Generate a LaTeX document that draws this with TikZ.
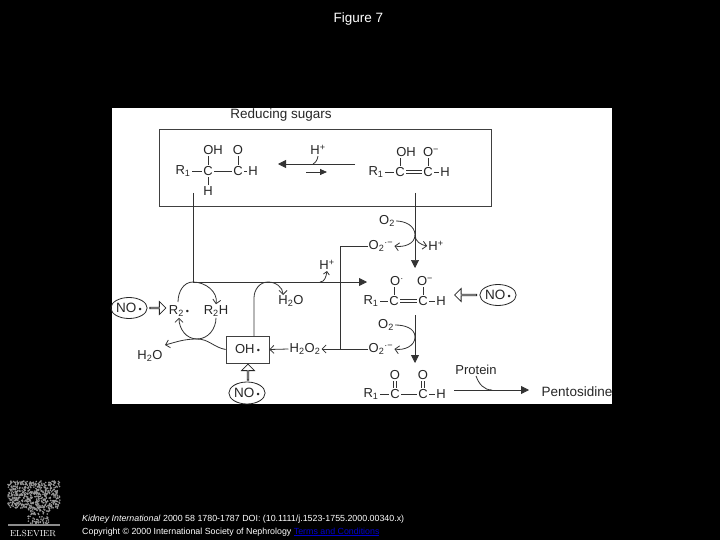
\documentclass[tikz,border=0pt]{standalone}
\usepackage{fontspec}
\setmainfont{Liberation Sans}
\usetikzlibrary{arrows.meta,shapes.geometric,shapes.arrows}
\newcommand{\raddot}{\,{\fontsize{9}{9}\selectfont\textbullet}}

\begin{document}
\begin{tikzpicture}[
  x=1pt, y=-1pt,
  atom/.style={inner sep=0.5pt, text=black!85, font=\fontsize{13}{15}\selectfont},
  species/.style={inner sep=1pt, text=black!85, font=\fontsize{13}{15}\selectfont},
  frame/.style={draw=black!75, line width=0.8pt, inner sep=0pt},
  radical/.style={ellipse, draw=black!85, line width=0.8pt, inner sep=0pt, text=black!85,
                  font=\fontsize{13.5}{15}\selectfont},
  hollow/.style={single arrow, draw=black!85, fill=white, line width=0.8pt, inner sep=0pt,
                 minimum height=16pt, minimum width=13pt, single arrow head extend=3pt,
                 single arrow head indent=0pt},
  bond/.style={draw=black!80, line width=0.8pt, shorten >=1pt, shorten <=1pt},
  dbond/.style={bond, double, double distance=1.6pt},
  flow/.style={draw=black!80, line width=0.8pt},
  solidarr/.style={flow, -{Triangle[length=8pt,width=8pt]}},
  openarr/.style={flow, -{Straight Barb[length=4pt,width=8pt]}},
  foot/.style={inner sep=0pt, anchor=west, text=white, font=\fontsize{8.85}{10}\selectfont},
]
  % Slide and panel
  \useasboundingbox (0,0) rectangle (720,540);
  \fill[black] (0,0) rectangle (720,540);
  \fill[white] (112,108) rectangle (612,404);
  \node[text=white, inner sep=0pt, font=\fontsize{13.5}{15}\selectfont] (title) at (358.5,19) {Figure 7};
  \node[species, font=\fontsize{13.5}{15}\selectfont] (sugars) at (281,115) {Reducing sugars};
  \node[frame, minimum width=332pt, minimum height=77pt] (sugarbox) at (325,167.5) {};

  % Left sugar
  \node[atom] (ra) at (183,171) {R\textsubscript{1}};
  \node[atom] (ca) at (208,171) {C};
  \node[atom] (cb) at (238,171) {C};
  \node[atom] (ha) at (253,171) {H};
  \node[atom] (oha) at (213,150) {OH};
  \node[atom] (oa) at (238,150) {O};
  \node[atom] (hb) at (208,191) {H};
  \draw[bond] (ra) -- (ca);
  \draw[bond] (ca) -- (cb);
  \draw[bond] (cb) -- (ha);
  \draw[bond] (ca) -- (ca |- oha.south);
  \draw[bond] (cb) -- (oa);
  \draw[bond] (ca) -- (hb);

  % Right sugar
  \node[atom] (rb) at (376,172) {R\textsubscript{1}};
  \node[atom] (cc) at (400,172) {C};
  \node[atom] (cd) at (428,172) {C};
  \node[atom] (hc) at (445,172) {H};
  \node[atom] (ohb) at (406,152) {OH};
  \node[atom] (ob) at (431,152) {O\textsuperscript{−}};
  \draw[bond] (rb) -- (cc);
  \draw[dbond] (cc) -- (cd);
  \draw[bond] (cd) -- (hc);
  \draw[bond] (cc) -- (cc |- ohb.south);
  \draw[bond] (cd) -- (cd |- ob.south);

  % Equilibrium
  \node[species] (hplusa) at (318,150) {H\textsuperscript{+}};
  \coordinate (eqr) at (355,164);
  \coordinate (eql) at (278,164);
  \coordinate (eqh) at (313,164);
  \coordinate (eqa) at (306,172);
  \coordinate (eqb) at (327,172);
  \draw[solidarr] (eqr) -- (eql);
  \draw[solidarr, -{Triangle[length=7pt,width=6pt]}] (eqa) -- (eqb);
  \draw[flow] (hplusa.south) to[out=-100, in=30] (eqh);

  % Middle sugar
  \node[atom] (rc) at (371,301) {R\textsubscript{1}};
  \node[atom] (ce) at (394,301) {C};
  \node[atom] (cf) at (423,301) {C};
  \node[atom] (hd) at (441,301) {H};
  \node[atom] (oc) at (397,281) {O\textsuperscript{·}};
  \node[atom] (od) at (425,281) {O\textsuperscript{−}};
  \draw[bond] (rc) -- (ce);
  \draw[dbond] (ce) -- (cf);
  \draw[bond] (cf) -- (hd);
  \draw[bond] (ce) -- (ce |- oc.south);
  \draw[bond] (cf) -- (cf |- od.south);

  % Bottom sugar
  \node[atom] (rd) at (371,394) {R\textsubscript{1}};
  \node[atom] (cg) at (395,394) {C};
  \node[atom] (ch) at (423,394) {C};
  \node[atom] (he) at (441,394) {H};
  \node[atom] (oe) at (395,375) {O};
  \node[atom] (of) at (423,375) {O};
  \draw[bond] (rd) -- (cg);
  \draw[bond] (cg) -- (ch);
  \draw[bond] (ch) -- (he);
  \draw[dbond] (cg) -- (oe);
  \draw[dbond] (ch) -- (of);

  % Oxygen steps
  \node[species] (oxa) at (387,221) {O\textsubscript{2}};
  \node[species] (supa) at (381,246) {O\textsubscript{2}\textsuperscript{·−}};
  \node[species] (hplusb) at (436,246) {H\textsuperscript{+}};
  \node[species] (oxb) at (386,325) {O\textsubscript{2}};
  \node[species] (supb) at (381,349) {O\textsubscript{2}\textsuperscript{·−}};
  \coordinate (dropa) at (415,193);
  \coordinate (tipa) at (415,268);
  \coordinate (benda) at (415,235);
  \coordinate (dropb) at (415,315);
  \coordinate (tipb) at (415,363);
  \coordinate (bendb) at (415,337);
  \draw[solidarr, line width=0.6pt] (dropa) -- (tipa);
  \draw[solidarr] (dropb) -- (tipb);
  \draw[flow] (oxa.east) to[out=0, in=90] (benda);
  \draw[openarr] (benda) to[out=-90, in=-10] (supa.east);
  \draw[openarr] (benda) to[out=-90, in=170] (hplusb.west);
  \draw[flow] (oxb.east) to[out=0, in=90] (bendb);
  \draw[openarr] (bendb) to[out=-90, in=-10] (supb.east);

  % Peroxide return and main line
  \node[species] (perox) at (305,349) {H\textsubscript{2}O\textsubscript{2}};
  \node[species] (hplusc) at (327,265) {H\textsuperscript{+}};
  \coordinate (cornera) at (340,246);
  \coordinate (cornerb) at (340,349);
  \coordinate (leftdrop) at (193,193);
  \coordinate (leftcorner) at (193,282);
  \coordinate (mainhead) at (367,282);
  \coordinate (mainh) at (320,282);
  \draw[flow] (supa.west) -- (cornera) -- (cornerb) -- (supb.west);
  \draw[openarr] (cornerb) -- (perox.east);
  \draw[flow] (leftdrop) -- (leftcorner);
  \draw[solidarr] (leftcorner) -- (mainhead);
  \draw[flow, -{Straight Barb[length=3pt,width=6pt]}] (mainh) to[out=0, in=-100] (hplusc.south);

  % Radical cycle
  \node[species] (rad) at (179,311) {R\textsubscript{2}\raddot};
  \node[species] (rtwoh) at (216,311) {R\textsubscript{2}H};
  \node[species] (watera) at (150,356) {H\textsubscript{2}O};
  \node[species] (waterb) at (291,301) {H\textsubscript{2}O};
  \node[frame, fill=white, minimum width=43pt, minimum height=27pt, species] (oh) at (247.5,349.5) {OH\raddot};
  \coordinate (cyclelow) at (197,339);
  \coordinate (cycleout) at (178,302);
  \coordinate (boxtop) at (254,336);
  \coordinate (boxbend) at (254,298);
  \coordinate (boxtopc) at (268,282);
  \coordinate (wateratip) at (165,345);
  \coordinate (waterbtip) at (283,295);
  \draw[flow] (leftcorner) to[out=180, in=90] (cycleout);
  \draw[openarr] (leftcorner) to[out=0, in=80] (rtwoh.north);
  \draw[flow] (rtwoh.south) to[out=-90, in=0] (cyclelow);
  \draw[openarr] (cyclelow) to[out=180, in=-90] (rad.south);
  \draw[openarr] (oh.west) to[out=170, in=0] (cyclelow) to[out=180, in=15] (wateratip);
  \draw[flow] (boxtop) -- (boxbend) to[out=90, in=180] (boxtopc);
  \draw[openarr] (boxtopc) to[out=0, in=90] (waterbtip);
  \draw[openarr] (perox.west) -- (oh.east);

  % Nitric oxide
  \node[radical, minimum width=36pt, minimum height=21pt] (noa) at (129,308) {NO\raddot};
  \node[radical, minimum width=36pt, minimum height=22pt] (nob) at (247,393) {NO\raddot};
  \node[radical, minimum width=36pt, minimum height=21pt] (noc) at (498,295) {NO\raddot};
  \node[hollow] (blocka) at (157.5,308) {};
  \node[hollow, shape border rotate=90] (blockb) at (248,372.5) {};
  \node[hollow, shape border rotate=180, minimum height=22pt] (blockc) at (466,295) {};

  % Protein step
  \node[species] (protein) at (476,370) {Protein};
  \node[species, font=\fontsize{13.5}{15}\selectfont] (pento) at (577,392) {Pentosidine};
  \coordinate (protl) at (454,390);
  \coordinate (protr) at (529,390);
  \coordinate (protm) at (492,390);
  \draw[solidarr] (protl) -- (protr);
  \draw[flow] (protein.south) to[out=-70, in=180] (protm);

  % Footer
  \node[foot] (cite) at (82,519) {\textit{Kidney International} 2000 58 1780-1787 DOI: (10.1111/j.1523-1755.2000.00340.x)};
  \node[foot] (copy) at (82,532) {Copyright © 2000 International Society of Nephrology \textcolor{blue!80!black}{\underline{Terms and Conditions}}};

  % Publisher mark
  \pgfmathsetseed{7}
  \foreach \i in {1,...,520}
    \fill[black!40] ({8+52*rnd},{481+27*rnd}) circle (0.9);
  \foreach \i in {1,...,90}
    \fill[black!40] ({28+22*rnd},{507+17*rnd}) circle (0.9);
  \fill[black!45] (8,524) rectangle (60,526);
  \node[inner sep=0pt, text=white, font=\fontfamily{lmr}\fontsize{8.8}{10}\selectfont] (mark) at (33,533) {ELSEVIER};
\end{tikzpicture}
\end{document}
